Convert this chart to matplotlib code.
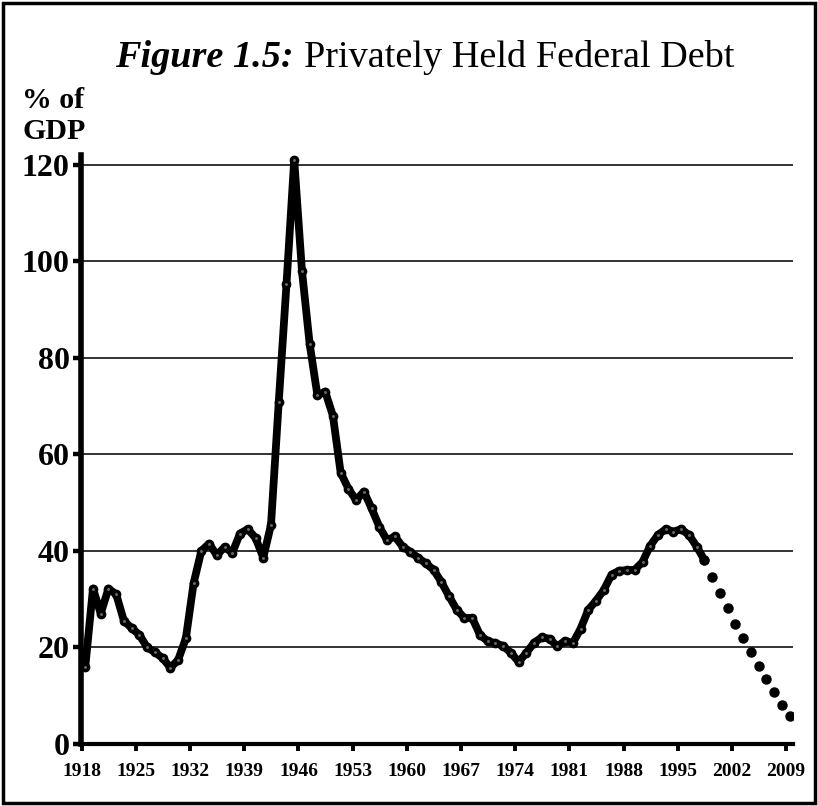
import numpy as np
import matplotlib
matplotlib.use('Agg')
import matplotlib.pyplot as plt
from matplotlib.patches import Rectangle

# Data: privately held federal debt, % of GDP
hist_years = np.arange(1918, 1999)
hist_debt = [15.9, 32.2, 27.0, 32.2, 31.0, 25.5, 24.0, 22.6, 20.0, 19.0,
             17.8, 15.8, 17.4, 21.9, 33.3, 40.0, 41.5, 39.1, 40.8, 39.6,
             43.6, 44.5, 42.7, 38.6, 45.4, 70.8, 95.2, 121.0, 98.0, 82.8,
             72.2, 73.0, 68.0, 56.2, 52.9, 50.5, 52.3, 48.8, 45.0, 42.2,
             43.0, 40.9, 39.8, 38.6, 37.4, 36.1, 33.6, 30.6, 27.8, 26.1,
             26.1, 22.6, 21.3, 20.9, 20.3, 18.9, 17.0, 18.9, 21.0, 22.1,
             21.8, 20.2, 21.4, 20.9, 23.9, 27.8, 29.7, 31.9, 35.1, 35.9,
             36.0, 36.1, 37.7, 41.1, 43.3, 44.5, 44.0, 44.5, 43.3, 40.9,
             38.1]

proj_years = np.arange(1998, 2010)
proj_debt = [38.1, 34.6, 31.2, 28.1, 24.8, 22.0, 19.0, 16.1, 13.4, 10.8,
             8.1, 5.9]

tick_years = [1918, 1925, 1932, 1939, 1946, 1953, 1960, 1967, 1974, 1981,
              1988, 1995, 2002, 2009]
y_ticks = [0, 20, 40, 60, 80, 100, 120]

# fiscal-year points sit a bit right of the year tick
fy_offset = 0.45

serif = ['Liberation Serif', 'DejaVu Serif']

fig = plt.figure(figsize=(8.18, 8.06), dpi=100)
ax = fig.add_axes([0.099, 0.0769, 0.8705, 0.7308])

# horizontal grid lines
for v in y_ticks[1:]:
    ax.axhline(v, color='#111111', lw=1.2, zorder=1)

ax.plot(hist_years + fy_offset, hist_debt, color='black', lw=5.6,
        marker='o', ms=4.6, mfc='#666666', mec='black', mew=2.4,
        solid_joinstyle='round', solid_capstyle='round', zorder=3)
ax.plot(proj_years + fy_offset, proj_debt, linestyle='none', marker='o',
        ms=6.5, color='black', zorder=3)

ax.set_xlim(1917.9, 2009.9)
ax.set_ylim(0, 122)
ax.set_xticks(tick_years)
ax.set_yticks(y_ticks)

for s in ['top', 'right']:
    ax.spines[s].set_visible(False)
ax.spines['left'].set_linewidth(4.0)
ax.spines['bottom'].set_linewidth(3.0)

ax.tick_params(axis='y', direction='out', length=5.5, width=3.2, pad=2.5)
ax.tick_params(axis='x', direction='out', length=5, width=2.8, pad=9)
for lab in ax.get_yticklabels():
    lab.set_fontfamily(serif)
    lab.set_fontweight('bold')
    lab.set_fontsize(23)
for lab in ax.get_xticklabels():
    lab.set_fontfamily(serif)
    lab.set_fontweight('bold')
    lab.set_fontsize(14)

# title in two pieces
fig.text(0.359, 0.917, 'Figure 1.5:', ha='right', va='baseline',
         family=serif, style='italic', weight='bold', fontsize=27.5)
fig.text(0.372, 0.917, 'Privately Held Federal Debt', ha='left',
         va='baseline', family=serif, fontsize=27.5)

# y axis label
fig.text(0.027, 0.866, '% of', ha='left', va='baseline', family=serif,
         weight='bold', fontsize=21.5)
fig.text(0.027, 0.828, 'GDP', ha='left', va='baseline', family=serif,
         weight='bold', fontsize=21.5)

# outer frame
fig.patches.append(Rectangle((0.004, 0.004), 0.992, 0.992,
                             transform=fig.transFigure, fill=False,
                             ec='black', lw=2.5))

fig.savefig('out.png', dpi=100)
